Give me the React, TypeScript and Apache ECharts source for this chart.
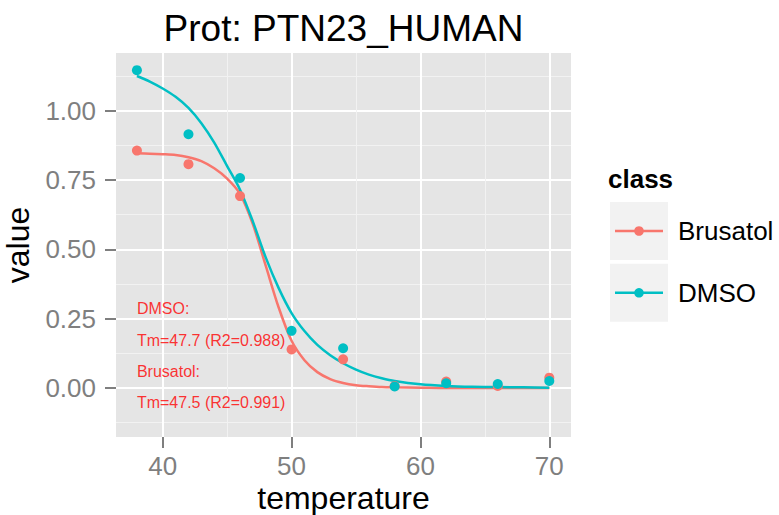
import React, { useEffect, useRef } from "react";
import * as echarts from "echarts";

const temperatures = [38, 42, 46, 50, 54, 58, 62, 66, 70];
const brusatolValues = [0.856, 0.807, 0.692, 0.139, 0.103, 0.007, 0.023, 0.007, 0.037];
const dmsoValues = [1.146, 0.915, 0.757, 0.206, 0.143, 0.005, 0.017, 0.014, 0.025];

const fitTemperatures = [38, 39, 40, 41, 42, 43, 44, 45, 46, 47, 48, 49, 50, 51, 52, 53, 54, 55, 56, 57, 58, 60, 62, 64, 66, 68, 70];
const brusatolFit = [0.846, 0.845, 0.843, 0.84, 0.832, 0.818, 0.792, 0.755, 0.7, 0.59, 0.44, 0.29, 0.17, 0.1, 0.057, 0.032, 0.018, 0.01, 0.006, 0.003, 0.002, 0.001, 0, 0, 0, 0, 0];
const dmsoFit = [1.125, 1.105, 1.08, 1.05, 1.01, 0.955, 0.885, 0.8, 0.715, 0.6, 0.47, 0.36, 0.27, 0.205, 0.155, 0.118, 0.089, 0.066, 0.048, 0.035, 0.025, 0.013, 0.007, 0.004, 0.003, 0.002, 0.001];

const xMajorTicks = [40, 50, 60, 70];
const xMinorTicks = [45, 55, 65];
const yMajorTicks = [0, 0.25, 0.5, 0.75, 1.0];
const yMinorTicks = [-0.125, 0.125, 0.375, 0.625, 0.875, 1.125];

const annotationLines = ["DMSO:", "Tm=47.7 (R2=0.988)", "Brusatol:", "Tm=47.5 (R2=0.991)"];
const annotationX = 38;
const annotationY = [0.285, 0.172, 0.059, -0.054];

const classes = ["Brusatol", "DMSO"];
const colors = ["#F8766D", "#00BFC4"];

const FONT = "'Liberation Sans', Arial, Helvetica, sans-serif";

export default function App() {
  const ref = useRef<HTMLDivElement>(null);
  useEffect(() => {
    document.body.style.margin = "0";
    if (!ref.current) return;
    const chart = echarts.init(ref.current, undefined, { renderer: "svg" });
    const xMin = 36.376, xMax = 71.684, yMin = -0.177, yMax = 1.208;
    const gridL = 116, gridT = 53, gridR = 208, gridB = 78;
    const legendItems = classes.map((c, i) => {
      const cy = 231 + i * 61.8;
      return {
        type: "group",
        children: [
          { type: "rect", shape: { x: 610, y: cy - 29, width: 58, height: 58 }, style: { fill: "#F2F2F2" } },
          { type: "line", shape: { x1: 615, y1: cy, x2: 663, y2: cy }, style: { stroke: colors[i], lineWidth: 2.5 } },
          { type: "circle", shape: { cx: 639, cy, r: 4.8 }, style: { fill: colors[i] } },
          { type: "text", x: 678, y: cy, style: { text: c, fontSize: 26, fontFamily: FONT, fill: "#000", textVerticalAlign: "middle", textAlign: "left" } },
        ],
      };
    });
    const option: any = {
      animation: false,
      backgroundColor: "#FFFFFF",
      grid: { left: gridL, top: gridT, right: gridR, bottom: gridB, show: true, backgroundColor: "#E5E5E5", borderWidth: 0, containLabel: false, outerBoundsMode: "none" },
      xAxis: [
        {
          type: "value", min: xMin, max: xMax, gridIndex: 0, position: "bottom",
          axisLine: { show: false, onZero: false },
          axisTick: { show: true, customValues: xMajorTicks, length: 11, lineStyle: { color: "#7F7F7F", width: 2 } },
          axisLabel: { customValues: xMajorTicks, color: "#7F7F7F", fontSize: 26, lineHeight: 20, fontFamily: FONT, margin: 18.5 },
          splitLine: { show: true, lineStyle: { color: "#FFFFFF", width: 2 } },
        },
        {
          type: "value", min: xMin, max: xMax, gridIndex: 0, position: "bottom",
          axisLine: { show: false, onZero: false },
          axisTick: { show: false, customValues: xMinorTicks },
          axisLabel: { show: false, customValues: xMinorTicks },
          splitLine: { show: true, lineStyle: { color: "#F2F2F2", width: 1 } },
        },
      ],
      yAxis: [
        {
          type: "value", min: yMin, max: yMax, gridIndex: 0, position: "left",
          axisLine: { show: false, onZero: false },
          axisTick: { show: true, customValues: yMajorTicks, length: 11, lineStyle: { color: "#7F7F7F", width: 2 } },
          axisLabel: { customValues: yMajorTicks, color: "#7F7F7F", fontSize: 26, fontFamily: FONT, margin: 20, formatter: (v: number) => v.toFixed(2) },
          splitLine: { show: true, lineStyle: { color: "#FFFFFF", width: 2 } },
          name: "value", nameLocation: "middle", nameGap: 72,
          nameTextStyle: { fontSize: 32, fontFamily: FONT, color: "#000" },
        },
        {
          type: "value", min: yMin, max: yMax, gridIndex: 0, position: "left",
          axisLine: { show: false, onZero: false },
          axisTick: { show: false, customValues: yMinorTicks },
          axisLabel: { show: false, customValues: yMinorTicks },
          splitLine: { show: true, lineStyle: { color: "#F2F2F2", width: 1 } },
        },
      ],
      graphic: [
        { type: "text", x: 343.5, y: 28.5, style: { text: "Prot: PTN23_HUMAN", fontSize: 37, fontFamily: FONT, fill: "#000", textAlign: "center", textVerticalAlign: "middle" } },
        { type: "text", x: 343.5, y: 497.5, style: { text: "temperature", fontSize: 32, lineHeight: 28, fontFamily: FONT, fill: "#000", textAlign: "center", textVerticalAlign: "middle" } },
        { type: "text", x: 608, y: 178.5, style: { text: "class", fontSize: 26, fontWeight: "bold", fontFamily: FONT, fill: "#000", textAlign: "left", textVerticalAlign: "middle" } },
        ...legendItems,
      ],
      series: [
        {
          type: "line", name: "Brusatol fit", xAxisIndex: 0, yAxisIndex: 0,
          data: fitTemperatures.map((t, i) => [t, brusatolFit[i]]),
          showSymbol: false, smooth: 0.3,
          lineStyle: { color: colors[0], width: 2.5 }, z: 2,
        },
        {
          type: "line", name: "DMSO fit", xAxisIndex: 0, yAxisIndex: 0,
          data: fitTemperatures.map((t, i) => [t, dmsoFit[i]]),
          showSymbol: false, smooth: 0.3,
          lineStyle: { color: colors[1], width: 2.5 }, z: 2,
        },
        {
          type: "scatter", name: "Brusatol", xAxisIndex: 0, yAxisIndex: 0,
          data: temperatures.map((t, i) => [t, brusatolValues[i]]),
          symbolSize: 10, itemStyle: { color: colors[0], opacity: 1 }, z: 3,
        },
        {
          type: "scatter", name: "DMSO", xAxisIndex: 0, yAxisIndex: 0,
          data: temperatures.map((t, i) => [t, dmsoValues[i]]),
          symbolSize: 10, itemStyle: { color: colors[1], opacity: 1 }, z: 3,
        },
        {
          type: "scatter", name: "annotations", xAxisIndex: 0, yAxisIndex: 0,
          data: annotationLines.map((s, i) => ({ value: [annotationX, annotationY[i]], name: s })),
          symbolSize: 0, silent: true, z: 4,
          label: {
            show: true, position: [0, 0], align: "left", verticalAlign: "middle",
            formatter: (p: any) => p.name, color: "#FF0000", fontSize: 16, fontFamily: FONT,
          },
        },
      ],
    };
    chart.setOption(option);
    return () => chart.dispose();
  }, []);
  return <div ref={ref} style={{ width: 779, height: 515 }} />;
}
